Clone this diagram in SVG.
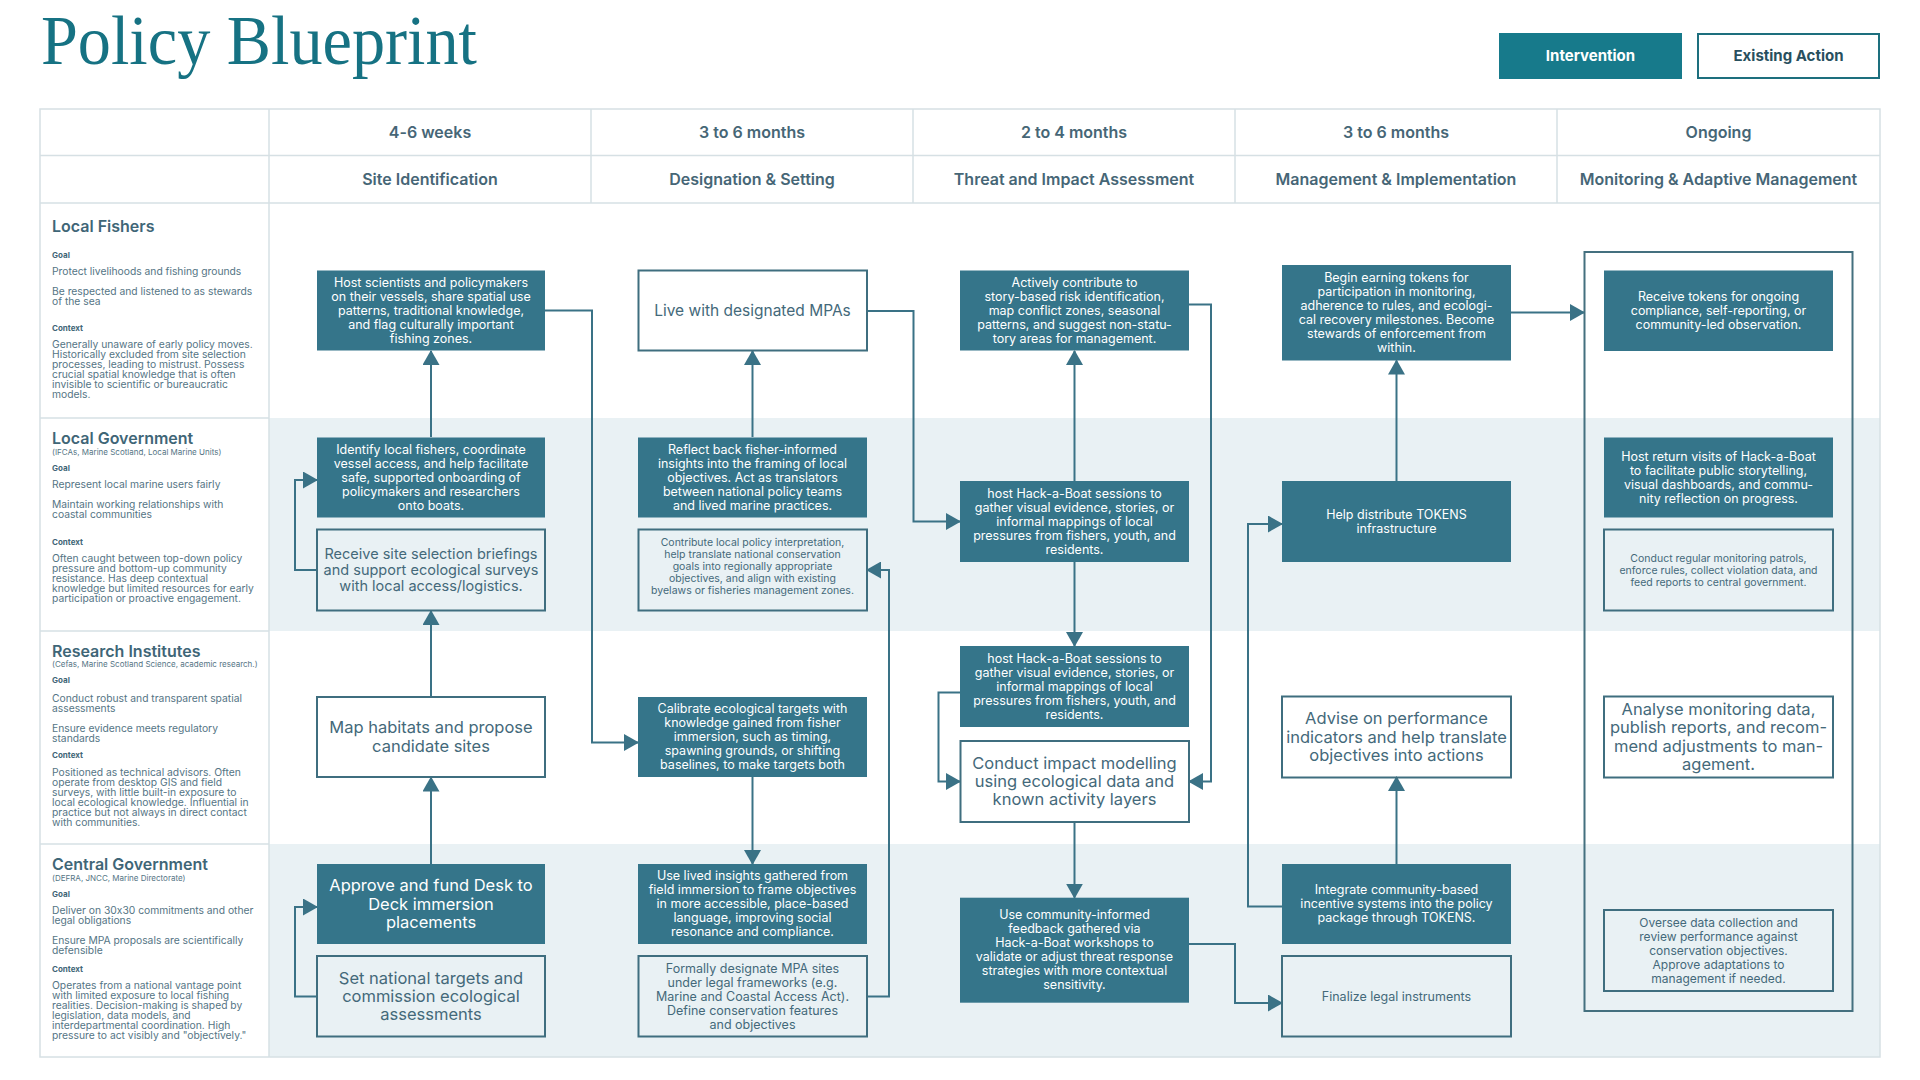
<svg xmlns="http://www.w3.org/2000/svg" width="1920" height="1080" viewBox="0 0 1920 1080">
<defs>
<marker id="ah" viewBox="0 0 15 17" refX="14" refY="8.5" markerWidth="15" markerHeight="17" markerUnits="userSpaceOnUse" orient="auto">
<path d="M0,0 L15,8.5 L0,17 Z" fill="#3a7286"/>
</marker>
<style>
text{font-family:Inter,"Noto Sans","Liberation Sans",sans-serif;font-feature-settings:"calt" 0}
.grid{stroke:#d6e0e4;stroke-width:1.5;fill:none}
.lane{fill:#e9f1f4}
.nf{fill:#35758a}
.no{fill:none;stroke:#3f6e7f;stroke-width:2}
.conn{fill:none;stroke:#3a7286;stroke-width:2;marker-end:url(#ah)}
.tw{fill:#ffffff;font-size:12.5px;text-anchor:middle}
.tb{fill:#44697a;font-size:16.5px;text-anchor:middle}
.tm{fill:#44697a;font-size:12.5px;text-anchor:middle}
.tsm{fill:#44697a;font-size:10.5px;text-anchor:middle}
.twb{fill:#ffffff;font-size:16.5px;text-anchor:middle}
.hd{fill:#466676;font-size:16px;font-weight:600;text-anchor:middle}
.lt{fill:#3f6677;font-size:16px;font-weight:600}
.ls{fill:#557585;font-size:8px}
.lk{fill:#3f6677;font-size:8px;font-weight:700}
.lb{fill:#557585;font-size:10.3px}
.ttl{font-family:"Liberation Serif",serif;font-size:70px;fill:#167283}
</style>
</defs>
<rect width="1920" height="1080" fill="#ffffff"/>
<text class="ttl" x="41" y="64" textLength="436" lengthAdjust="spacingAndGlyphs">Policy Blueprint</text>
<g id="legend">
<rect x="1499" y="33" width="183" height="46" fill="#177a8b"/>
<text x="1590.5" y="61" font-size="15" font-weight="700" fill="#ffffff" text-anchor="middle">Intervention</text>
<rect x="1698" y="34" width="181" height="44" fill="#ffffff" stroke="#1d6f7e" stroke-width="2"/>
<text x="1788.5" y="61" font-size="15" font-weight="700" fill="#284f5e" text-anchor="middle">Existing Action</text>
</g>
<g id="lanes">
<rect class="lane" x="269" y="418" width="1611" height="213"/>
<rect class="lane" x="269" y="844" width="1611" height="213"/>
</g>
<g id="table">
<rect class="grid" x="40" y="109" width="1840" height="948"/>
<line class="grid" x1="40" y1="155.5" x2="1880" y2="155.5"/>
<line class="grid" x1="40" y1="203" x2="1880" y2="203"/>
<line class="grid" x1="269" y1="109" x2="269" y2="1057"/>
<line class="grid" x1="591" y1="109" x2="591" y2="203"/>
<line class="grid" x1="913" y1="109" x2="913" y2="203"/>
<line class="grid" x1="1235" y1="109" x2="1235" y2="203"/>
<line class="grid" x1="1557" y1="109" x2="1557" y2="203"/>
<line class="grid" x1="40" y1="418" x2="269" y2="418"/>
<line class="grid" x1="40" y1="631" x2="269" y2="631"/>
<line class="grid" x1="40" y1="844" x2="269" y2="844"/>
<text class="hd" x="430" y="137.5">4-6 weeks</text>
<text class="hd" x="752" y="137.5">3 to 6 months</text>
<text class="hd" x="1074" y="137.5">2 to 4 months</text>
<text class="hd" x="1396" y="137.5">3 to 6 months</text>
<text class="hd" x="1718.5" y="137.5">Ongoing</text>
<text class="hd" x="430" y="184.5">Site Identification</text>
<text class="hd" x="752" y="184.5">Designation &amp; Setting</text>
<text class="hd" x="1074" y="184.5">Threat and Impact Assessment</text>
<text class="hd" x="1396" y="184.5">Management &amp; Implementation</text>
<text class="hd" x="1718.5" y="184.5">Monitoring &amp; Adaptive Management</text>
</g>
<g id="lane-local-fishers">
<text class="lt" x="52" y="232">Local Fishers</text>
<text class="lk" x="52" y="258">Goal</text>
<text class="lb" x="52" y="275">Protect livelihoods and fishing grounds</text>
<text class="lb" x="52"><tspan x="52" y="295">Be respected and listened to as stewards</tspan><tspan x="52" y="304.5">of the sea</tspan></text>
<text class="lk" x="52" y="331">Context</text>
<text class="lb"><tspan x="52" y="347.7">Generally unaware of early policy moves.</tspan><tspan x="52" y="357.5">Historically excluded from site selection</tspan><tspan x="52" y="367.5">processes, leading to mistrust. Possess</tspan><tspan x="52" y="377.5">crucial spatial knowledge that is often</tspan><tspan x="52" y="387.5">invisible to scientific or bureaucratic</tspan><tspan x="52" y="397.5">models.</tspan></text>
</g>
<g id="lane-local-government">
<text class="lt" x="52" y="444">Local Government</text>
<text class="ls" x="52" y="455">(IFCAs, Marine Scotland, Local Marine Units)</text>
<text class="lk" x="52" y="471">Goal</text>
<text class="lb" x="52" y="488">Represent local marine users fairly</text>
<text class="lb"><tspan x="52" y="508">Maintain working relationships with</tspan><tspan x="52" y="518">coastal communities</tspan></text>
<text class="lk" x="52" y="545">Context</text>
<text class="lb"><tspan x="52" y="561.7">Often caught between top-down policy</tspan><tspan x="52" y="571.7">pressure and bottom-up community</tspan><tspan x="52" y="581.7">resistance. Has deep contextual</tspan><tspan x="52" y="591.7">knowledge but limited resources for early</tspan><tspan x="52" y="601.7">participation or proactive engagement.</tspan></text>
</g>
<g id="lane-research-institutes">
<text class="lt" x="52" y="656.7">Research Institutes</text>
<text class="ls" x="52" y="667">(Cefas, Marine Scotland Science, academic research.)</text>
<text class="lk" x="52" y="683">Goal</text>
<text class="lb"><tspan x="52" y="701.7">Conduct robust and transparent spatial</tspan><tspan x="52" y="711.7">assessments</tspan></text>
<text class="lb"><tspan x="52" y="731.7">Ensure evidence meets regulatory</tspan><tspan x="52" y="741.7">standards</tspan></text>
<text class="lk" x="52" y="758">Context</text>
<text class="lb"><tspan x="52" y="775.7">Positioned as technical advisors. Often</tspan><tspan x="52" y="785.7">operate from desktop GIS and field</tspan><tspan x="52" y="795.7">surveys, with little built-in exposure to</tspan><tspan x="52" y="805.7">local ecological knowledge. Influential in</tspan><tspan x="52" y="815.7">practice but not always in direct contact</tspan><tspan x="52" y="825.7">with communities.</tspan></text>
</g>
<g id="lane-central-government">
<text class="lt" x="52" y="870">Central Government</text>
<text class="ls" x="52" y="880.7">(DEFRA, JNCC, Marine Directorate)</text>
<text class="lk" x="52" y="897">Goal</text>
<text class="lb"><tspan x="52" y="914">Deliver on 30x30 commitments and other</tspan><tspan x="52" y="924">legal obligations</tspan></text>
<text class="lb"><tspan x="52" y="944">Ensure MPA proposals are scientifically</tspan><tspan x="52" y="954">defensible</tspan></text>
<text class="lk" x="52" y="971.7">Context</text>
<text class="lb"><tspan x="52" y="989">Operates from a national vantage point</tspan><tspan x="52" y="999">with limited exposure to local fishing</tspan><tspan x="52" y="1009">realities. Decision-making is shaped by</tspan><tspan x="52" y="1019">legislation, data models, and</tspan><tspan x="52" y="1029">interdepartmental coordination. High</tspan><tspan x="52" y="1039">pressure to act visibly and "objectively."</tspan></text>
</g>
<g id="connectors">
<path class="conn" d="M431,437 V351"/>
<path class="conn" d="M317,570 H295 V480 H317"/>
<path class="conn" d="M431,697 V611"/>
<path class="conn" d="M431,864 V777.5"/>
<path class="conn" d="M317,996.5 H295 V907 H317"/>
<path class="conn" d="M545,310.5 H592 V742.5 H638"/>
<path class="conn" d="M752.5,437 V351"/>
<path class="conn" d="M752.5,777 V864"/>
<path class="conn" d="M867,996.5 H889 V570 H867"/>
<path class="conn" d="M867,311 H913.5 V521.5 H960"/>
<path class="conn" d="M1074.5,481 V351"/>
<path class="conn" d="M1189,304.5 H1211 V781.5 H1189"/>
<path class="conn" d="M1074.5,562 V646"/>
<path class="conn" d="M960,692.5 H938.5 V781.5 H960"/>
<path class="conn" d="M1074.5,822 V897.7"/>
<path class="conn" d="M1189,944 H1235 V1003 H1282"/>
<path class="conn" d="M1282,906.5 H1248 V524 H1282"/>
<path class="conn" d="M1396.5,481 V360.5"/>
<path class="conn" d="M1396.5,864 V777"/>
<path class="conn" d="M1511,312.5 H1584"/>
</g>
<g id="A1"><rect class="nf" x="317" y="270.5" width="228" height="80"/>
<text class="tw"><tspan x="431" y="286.6">Host scientists and policymakers</tspan><tspan x="431" y="300.6">on their vessels, share spatial use</tspan><tspan x="431" y="314.6">patterns, traditional knowledge,</tspan><tspan x="431" y="328.6">and flag culturally important</tspan><tspan x="431" y="342.6">fishing zones.</tspan></text></g>
<g id="A2"><rect class="nf" x="317" y="437.5" width="228" height="80"/>
<text class="tw"><tspan x="431" y="453.6">Identify local fishers, coordinate</tspan><tspan x="431" y="467.6">vessel access, and help facilitate</tspan><tspan x="431" y="481.6">safe, supported onboarding of</tspan><tspan x="431" y="495.6">policymakers and researchers</tspan><tspan x="431" y="509.6">onto boats.</tspan></text></g>
<g id="A3"><rect class="no" x="317" y="529.5" width="228" height="81"/>
<text class="tm" style="font-size:14.5px"><tspan x="431" y="558.5">Receive site selection briefings</tspan><tspan x="431" y="574.8">and support ecological surveys</tspan><tspan x="431" y="591.1">with local access/logistics.</tspan></text></g>
<g id="A4"><rect class="no" x="317" y="697" width="228" height="80"/>
<text class="tb"><tspan x="431" y="733.3">Map habitats and propose</tspan><tspan x="431" y="751.6">candidate sites</tspan></text></g>
<g id="A5"><rect class="nf" x="317" y="864" width="228" height="80"/>
<text class="twb"><tspan x="431" y="891.2">Approve and fund Desk to</tspan><tspan x="431" y="909.5">Deck immersion</tspan><tspan x="431" y="927.8">placements</tspan></text></g>
<g id="A6"><rect class="no" x="317" y="956" width="228" height="80.5"/>
<text class="tb"><tspan x="431" y="983.5">Set national targets and</tspan><tspan x="431" y="1001.8">commission ecological</tspan><tspan x="431" y="1020.1">assessments</tspan></text></g>
<g id="B1"><rect class="no" x="638.5" y="270.5" width="228.5" height="80"/>
<text class="tm" style="font-size:15.5px" x="752.5" y="315.6">Live with designated MPAs</text></g>
<g id="B2"><rect class="nf" x="638" y="437.5" width="229" height="80"/>
<text class="tw"><tspan x="752.5" y="453.6">Reflect back fisher-informed</tspan><tspan x="752.5" y="467.6">insights into the framing of local</tspan><tspan x="752.5" y="481.6">objectives. Act as translators</tspan><tspan x="752.5" y="495.6">between national policy teams</tspan><tspan x="752.5" y="509.6">and lived marine practices.</tspan></text></g>
<g id="B3"><rect class="no" x="638.5" y="529.5" width="228.5" height="81"/>
<text class="tsm"><tspan x="752.5" y="545.5">Contribute local policy interpretation,</tspan><tspan x="752.5" y="557.5">help translate national conservation</tspan><tspan x="752.5" y="569.5">goals into regionally appropriate</tspan><tspan x="752.5" y="581.5">objectives, and align with existing</tspan><tspan x="752.5" y="593.5">byelaws or fisheries management zones.</tspan></text></g>
<g id="B4"><rect class="nf" x="638" y="697" width="229" height="80"/>
<text class="tw"><tspan x="752.5" y="713.1">Calibrate ecological targets with</tspan><tspan x="752.5" y="727.1">knowledge gained from fisher</tspan><tspan x="752.5" y="741.1">immersion, such as timing,</tspan><tspan x="752.5" y="755.1">spawning grounds, or shifting</tspan><tspan x="752.5" y="769.1">baselines, to make targets both</tspan></text></g>
<g id="B5"><rect class="nf" x="638" y="864" width="229" height="80"/>
<text class="tw"><tspan x="752.5" y="880.1">Use lived insights gathered from</tspan><tspan x="752.5" y="894.1">field immersion to frame objectives</tspan><tspan x="752.5" y="908.1">in more accessible, place-based</tspan><tspan x="752.5" y="922.1">language, improving social</tspan><tspan x="752.5" y="936.1">resonance and compliance.</tspan></text></g>
<g id="B6"><rect class="no" x="638.5" y="956" width="228.5" height="80.5"/>
<text class="tm"><tspan x="752.5" y="972.6">Formally designate MPA sites</tspan><tspan x="752.5" y="986.6">under legal frameworks (e.g.</tspan><tspan x="752.5" y="1000.6">Marine and Coastal Access Act).</tspan><tspan x="752.5" y="1014.6">Define conservation features</tspan><tspan x="752.5" y="1028.6">and objectives</tspan></text></g>
<g id="C1"><rect class="nf" x="960" y="270.5" width="229" height="80"/>
<text class="tw"><tspan x="1074.5" y="286.6">Actively contribute to</tspan><tspan x="1074.5" y="300.6">story-based risk identification,</tspan><tspan x="1074.5" y="314.6">map conflict zones, seasonal</tspan><tspan x="1074.5" y="328.6">patterns, and suggest non-statu-</tspan><tspan x="1074.5" y="342.6">tory areas for management.</tspan></text></g>
<g id="C2"><rect class="nf" x="960" y="481" width="229" height="81"/>
<text class="tw"><tspan x="1074.5" y="497.6">host Hack-a-Boat sessions to</tspan><tspan x="1074.5" y="511.6">gather visual evidence, stories, or</tspan><tspan x="1074.5" y="525.6">informal mappings of local</tspan><tspan x="1074.5" y="539.6">pressures from fishers, youth, and</tspan><tspan x="1074.5" y="553.6">residents.</tspan></text></g>
<g id="C3"><rect class="nf" x="960" y="646" width="229" height="81"/>
<text class="tw"><tspan x="1074.5" y="662.6">host Hack-a-Boat sessions to</tspan><tspan x="1074.5" y="676.6">gather visual evidence, stories, or</tspan><tspan x="1074.5" y="690.6">informal mappings of local</tspan><tspan x="1074.5" y="704.6">pressures from fishers, youth, and</tspan><tspan x="1074.5" y="718.6">residents.</tspan></text></g>
<g id="C4"><rect class="no" x="960.5" y="741" width="228.5" height="81"/>
<text class="tb"><tspan x="1074.5" y="768.7">Conduct impact modelling</tspan><tspan x="1074.5" y="787">using ecological data and</tspan><tspan x="1074.5" y="805.3">known activity layers</tspan></text></g>
<g id="C5"><rect class="nf" x="960" y="897.7" width="229" height="105"/>
<text class="tw"><tspan x="1074.5" y="919.1">Use community-informed</tspan><tspan x="1074.5" y="933.1">feedback gathered via</tspan><tspan x="1074.5" y="947.1">Hack-a-Boat workshops to</tspan><tspan x="1074.5" y="961.1">validate or adjust threat response</tspan><tspan x="1074.5" y="975.1">strategies with more contextual</tspan><tspan x="1074.5" y="989.1">sensitivity.</tspan></text></g>
<g id="D1"><rect class="nf" x="1282" y="265" width="229" height="95.5"/>
<text class="tw"><tspan x="1396.5" y="281.8">Begin earning tokens for</tspan><tspan x="1396.5" y="295.8">participation in monitoring,</tspan><tspan x="1396.5" y="309.8">adherence to rules, and ecologi-</tspan><tspan x="1396.5" y="323.8">cal recovery milestones. Become</tspan><tspan x="1396.5" y="337.8">stewards of enforcement from</tspan><tspan x="1396.5" y="351.8">within.</tspan></text></g>
<g id="D2"><rect class="nf" x="1282" y="481" width="229" height="81"/>
<text class="tw"><tspan x="1396.5" y="518.6">Help distribute TOKENS</tspan><tspan x="1396.5" y="532.6">infrastructure</tspan></text></g>
<g id="D3"><rect class="no" x="1282" y="696.5" width="229" height="81"/>
<text class="tb"><tspan x="1396.5" y="724.2">Advise on performance</tspan><tspan x="1396.5" y="742.5">indicators and help translate</tspan><tspan x="1396.5" y="760.8">objectives into actions</tspan></text></g>
<g id="D4"><rect class="nf" x="1282" y="864" width="229" height="80"/>
<text class="tw"><tspan x="1396.5" y="894.1">Integrate community-based</tspan><tspan x="1396.5" y="908.1">incentive systems into the policy</tspan><tspan x="1396.5" y="922.1">package through TOKENS.</tspan></text></g>
<g id="D5"><rect class="no" x="1282" y="956" width="229" height="80.5"/>
<text class="tm" x="1396.5" y="1000.6">Finalize legal instruments</text></g>
<g id="E0"><rect fill="none" stroke="#44707f" stroke-width="2" x="1584.5" y="252" width="268" height="759"/></g>
<g id="E1"><rect class="nf" x="1604" y="270.5" width="229" height="80.5"/>
<text class="tw"><tspan x="1718.5" y="300.6">Receive tokens for ongoing</tspan><tspan x="1718.5" y="314.6">compliance, self-reporting, or</tspan><tspan x="1718.5" y="328.6">community-led observation.</tspan></text></g>
<g id="E2"><rect class="nf" x="1604" y="437.5" width="229" height="80"/>
<text class="tw"><tspan x="1718.5" y="460.6">Host return visits of Hack-a-Boat</tspan><tspan x="1718.5" y="474.6">to facilitate public storytelling,</tspan><tspan x="1718.5" y="488.6">visual dashboards, and commu-</tspan><tspan x="1718.5" y="502.6">nity reflection on progress.</tspan></text></g>
<g id="E3"><rect class="no" x="1604" y="529.5" width="229" height="81"/>
<text class="tsm"><tspan x="1718.5" y="561.5">Conduct regular monitoring patrols,</tspan><tspan x="1718.5" y="573.5">enforce rules, collect violation data, and</tspan><tspan x="1718.5" y="585.5">feed reports to central government.</tspan></text></g>
<g id="E4"><rect class="no" x="1604" y="696.5" width="229" height="81"/>
<text class="tb"><tspan x="1718.5" y="715">Analyse monitoring data,</tspan><tspan x="1718.5" y="733.4">publish reports, and recom-</tspan><tspan x="1718.5" y="751.7">mend adjustments to man-</tspan><tspan x="1718.5" y="770">agement.</tspan></text></g>
<g id="E5"><rect class="no" x="1604" y="910" width="229" height="81"/>
<text class="tm" style="font-size:12px"><tspan x="1718.5" y="926.5">Oversee data collection and</tspan><tspan x="1718.5" y="940.5">review performance against</tspan><tspan x="1718.5" y="954.5">conservation objectives.</tspan><tspan x="1718.5" y="968.5">Approve adaptations to</tspan><tspan x="1718.5" y="982.5">management if needed.</tspan></text></g>
</svg>
